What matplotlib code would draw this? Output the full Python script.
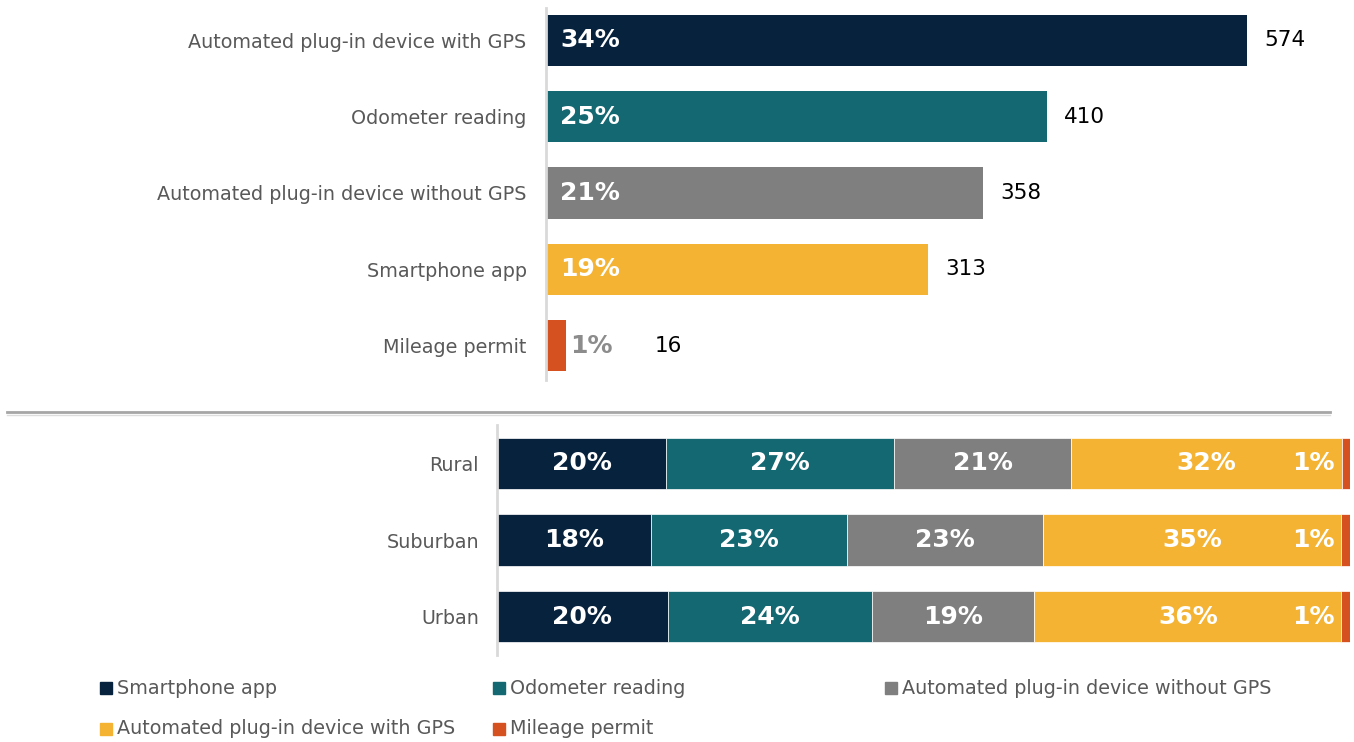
import matplotlib
matplotlib.use("Agg")
import matplotlib.pyplot as plt
from matplotlib.patches import Rectangle
from matplotlib.lines import Line2D

# ---- data -------------------------------------------------------------
methods = ["Automated plug-in device with GPS", "Odometer reading",
           "Automated plug-in device without GPS", "Smartphone app",
           "Mileage permit"]
counts = [574, 410, 358, 313, 16]
shares = [34, 25, 21, 19, 1]

areas = ["Rural", "Suburban", "Urban"]
stack_series = ["Smartphone app", "Odometer reading",
                "Automated plug-in device without GPS",
                "Automated plug-in device with GPS", "Mileage permit"]
stack_values = {
    "Smartphone app": [20, 18, 20],
    "Odometer reading": [27, 23, 24],
    "Automated plug-in device without GPS": [21, 23, 19],
    "Automated plug-in device with GPS": [32, 35, 36],
    "Mileage permit": [1, 1, 1],
}

# ---- style ------------------------------------------------------------
palette = ["#07223D", "#136872", "#7F7F7F", "#F4B332", "#D5511F"]
colors = dict(zip(stack_series, palette))
text_gray = "#595959"
spine_gray = "#D9D9D9"
plt.rcParams["font.family"] = ["DejaVu Sans"]

W, H = 1354, 742
fig = plt.figure(figsize=(W / 100, H / 100), dpi=100)


def px_axes(left, top, right, bottom):
    return fig.add_axes([left / W, 1 - bottom / H, (right - left) / W, (bottom - top) / H])


# ---- top: totals by method -------------------------------------------
ax1 = px_axes(546, 2, 1354, 384)
px_per_unit = (1247 - 546) / 574
ax1.set_xlim(0, (1354 - 546) / px_per_unit)
ypos = list(range(len(methods)))
ax1.barh(ypos, counts, height=0.67, color=palette, zorder=2)
ax1.set_ylim(len(methods) - 0.5, -0.5)
ax1.set_yticks(ypos)
ax1.set_yticklabels(methods, fontsize=13.8, color=text_gray)
ax1.tick_params(axis="y", length=0, pad=14)
ax1.set_xticks([])
for s in ["top", "right", "bottom"]:
    ax1.spines[s].set_visible(False)
ax1.spines["left"].set_color(spine_gray)
ax1.spines["left"].set_linewidth(2)
ax1.spines["left"].set_bounds(-0.42, 4.45)

pad = 17 / px_per_unit
for y, c, s in zip(ypos, counts, shares):
    if c > 60:
        ax1.text(14 / px_per_unit, y, f"{s}%", color="white", fontsize=18,
                 fontweight="bold", va="center", ha="left", zorder=3)
        ax1.text(c + pad, y, f"{c}", color="black", fontsize=15.5,
                 va="center", ha="left")
    else:
        ax1.text(c + 5 / px_per_unit, y, f"{s}%", color="#8C8C8C",
                 fontsize=18, fontweight="bold", va="center", ha="left")
        ax1.text(c + 89 / px_per_unit, y, f"{c}", color="black",
                 fontsize=15.5, va="center", ha="left")

# ---- separator between panels -----------------------------------------
fig.add_artist(Line2D([7 / W, 1330 / W], [1 - 412.5 / H] * 2,
                      color="#A6A6A6", lw=2, transform=fig.transFigure))
fig.add_artist(Line2D([7 / W, 1330 / W], [1 - 414.5 / H] * 2,
                      color="#DDDDDD", lw=1, transform=fig.transFigure))

# ---- bottom: share by area type (100% stacked) ------------------------
ax2 = px_axes(497, 425, 1350, 655)
ax2.set_xlim(0, 100)
ya = list(range(len(areas)))
row_totals = [sum(stack_values[n][i] for n in stack_series) for i in ya]
left = [0.0] * len(areas)
for name in stack_series:
    vals = stack_values[name]
    widths = [v / t * 100 for v, t in zip(vals, row_totals)]
    ax2.barh(ya, widths, left=left, height=0.67, color=colors[name],
             edgecolor="white", linewidth=0.5, zorder=2)
    for y, v, w, l in zip(ya, vals, widths, left):
        if v >= 5:
            ax2.text(l + w / 2, y, f"{v}%", color="white", fontsize=18,
                     fontweight="bold", va="center", ha="center", zorder=3)
        else:
            ax2.text(l - 0.8, y, f"{v}%", color="white", fontsize=18,
                     fontweight="bold", va="center", ha="right", zorder=3)
    left = [a + b for a, b in zip(left, widths)]
ax2.set_ylim(len(areas) - 0.5, -0.5)
ax2.set_yticks(ya)
ax2.set_yticklabels(areas, fontsize=13.8, color=text_gray)
ax2.tick_params(axis="y", length=0, pad=13)
ax2.set_xticks([])
for s in ["top", "right", "bottom"]:
    ax2.spines[s].set_visible(False)
ax2.spines["left"].set_color(spine_gray)
ax2.spines["left"].set_linewidth(2)

# ---- legend -----------------------------------------------------------
legend_pos = [(100, 688), (493, 688), (885, 688), (100, 729), (493, 729)]
for name, (x, y) in zip(stack_series, legend_pos):
    fig.add_artist(Rectangle(((x) / W, 1 - (y + 6) / H), 12 / W, 12 / H,
                             color=colors[name], transform=fig.transFigure))
    fig.text((x + 17) / W, 1 - y / H, name, fontsize=13.8, color=text_gray,
             va="center", ha="left")

fig.savefig("out.png", dpi=100)
